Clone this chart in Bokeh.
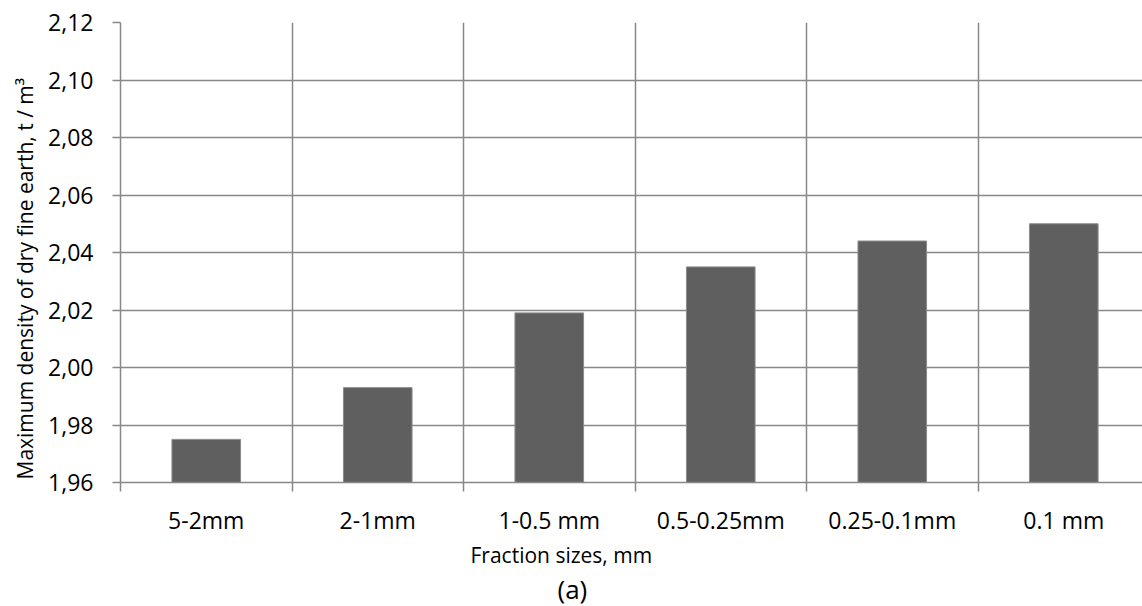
from bokeh.plotting import figure
from bokeh.models import Range1d, FixedTicker, Title, ColumnDataSource
from bokeh.embed import file_html
from bokeh.resources import INLINE

categories = ["5-2mm", "2-1mm", "1-0.5 mm", "0.5-0.25mm", "0.25-0.1mm", "0.1 mm"]
density = [1.975, 1.993, 2.019, 2.035, 2.044, 2.050]
y_ticks = [1.96, 1.98, 2.00, 2.02, 2.04, 2.06, 2.08, 2.10, 2.12]
y_tick_labels = ["1,96", "1,98", "2,00", "2,02", "2,04", "2,06", "2,08", "2,10", "2,12"]
x_title = "Fraction sizes, mm"
y_title = "Maximum density of dry fine earth, t / m³"
caption = "(a)"

FONT = "Open Sans"
GRID = "#888888"

centers = [i + 0.5 for i in range(len(categories))]
bounds = list(range(len(categories) + 1))

src = ColumnDataSource(dict(x=centers, top=density))

p = figure(width=1142, height=606, output_backend="svg", toolbar_location=None,
           x_range=Range1d(0, 5.959), y_range=Range1d(1.96, 2.12),
           min_border_left=120, min_border_right=0, min_border_top=22, min_border_bottom=123)
p.outline_line_color = None
p.background_fill_color = "white"
p.border_fill_color = "white"

p.vbar(x="x", top="top", bottom=1.96, width=0.4, source=src,
       fill_color="#5f5f5f", line_color="#8c8c8c", line_width=1)

# x axis
xa = p.xaxis[0]
xa.ticker = FixedTicker(ticks=centers, minor_ticks=bounds)
xa.major_label_overrides = {c: lab for c, lab in zip(centers, categories)}
xa.major_tick_line_color = None
xa.major_tick_out = 0
xa.major_tick_in = 0
xa.minor_tick_line_color = GRID
xa.minor_tick_line_width = 1.5
xa.minor_tick_out = 9
xa.minor_tick_in = 0
xa.axis_line_color = GRID
xa.axis_line_width = 1.5
xa.major_label_text_font = FONT
xa.major_label_text_font_size = "23px"
xa.major_label_text_color = "#000000"
xa.major_label_standoff = 12

# y axis
ya = p.yaxis[0]
ya.ticker = FixedTicker(ticks=y_ticks)
ya.major_label_overrides = {t: lab for t, lab in zip(y_ticks, y_tick_labels)}
ya.minor_tick_line_color = None
ya.major_tick_line_color = GRID
ya.major_tick_line_width = 1.5
ya.major_tick_out = 8
ya.major_tick_in = 0
ya.axis_line_color = GRID
ya.axis_line_width = 1.5
ya.major_label_text_font = FONT
ya.major_label_text_font_size = "23px"
ya.major_label_text_color = "#000000"
ya.major_label_standoff = 19

# grids
p.xgrid.ticker = FixedTicker(ticks=bounds)
p.xgrid.grid_line_color = GRID
p.xgrid.grid_line_width = 1.5
p.ygrid.ticker = FixedTicker(ticks=y_ticks)
p.ygrid.grid_line_color = GRID
p.ygrid.grid_line_width = 1.5

# titles
p.add_layout(Title(text=y_title, align="left", offset=3, standoff=14,
                   text_font=FONT, text_font_size="21px", text_font_style="normal",
                   text_color="#000000"), "left")
p.add_layout(Title(text=x_title, align="left", offset=350, standoff=0,
                   text_font=FONT, text_font_size="21px", text_font_style="normal",
                   text_line_height=1.0, text_color="#000000"), "below")
p.add_layout(Title(text=caption, align="left", offset=437, standoff=0,
                   text_font=FONT, text_font_size="26px", text_font_style="normal",
                   text_line_height=1.0, text_color="#000000"), "below")

open("out.html", "w").write(file_html(p, INLINE))
